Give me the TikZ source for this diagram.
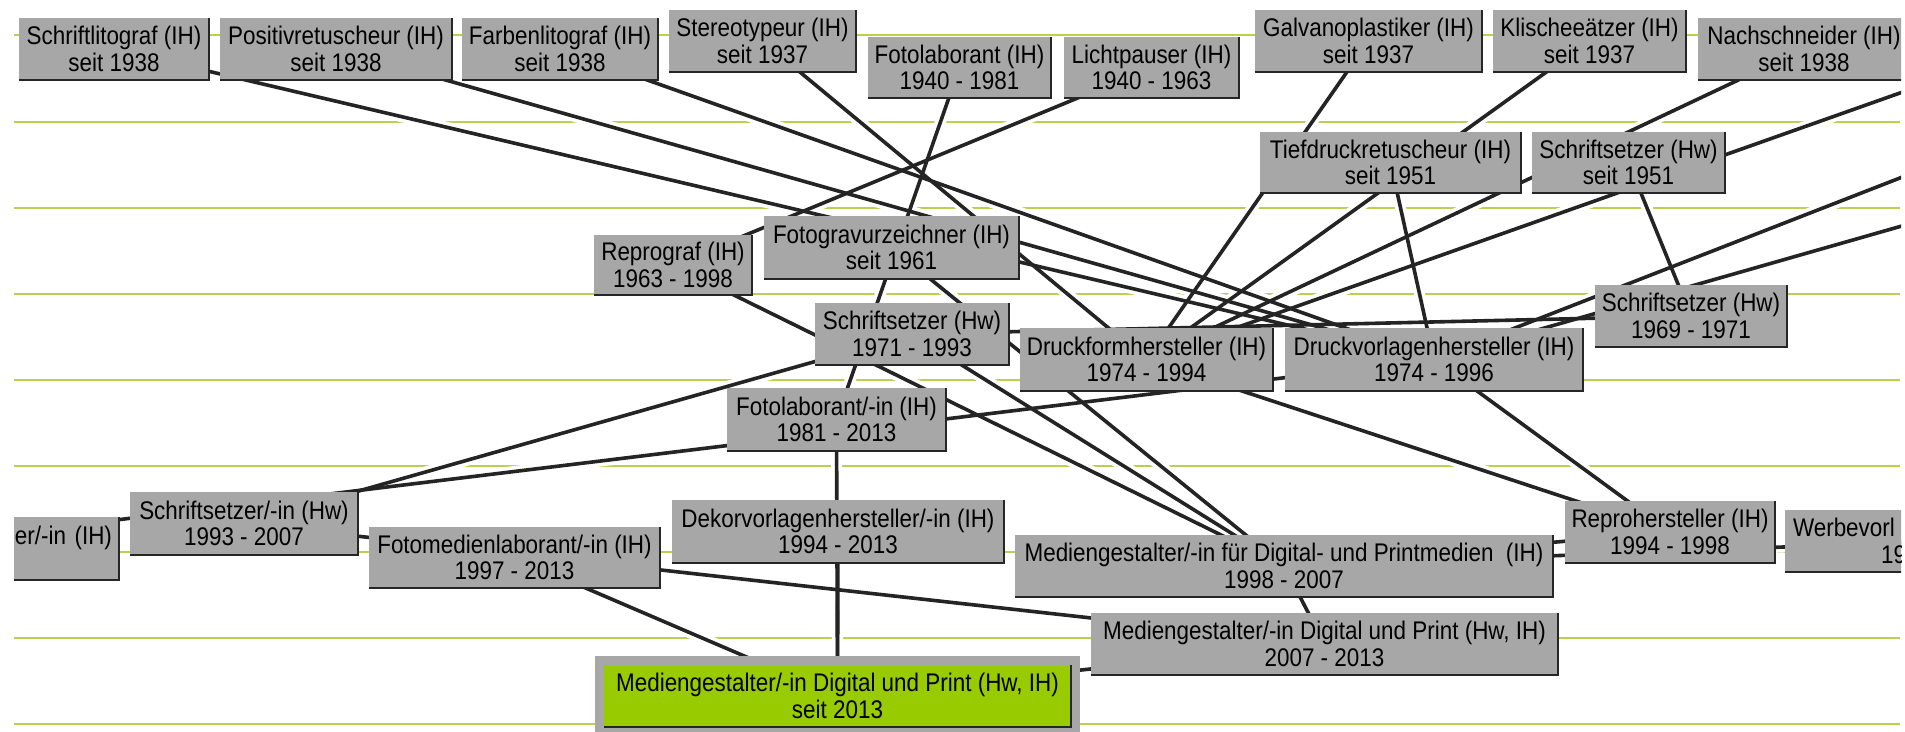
\documentclass[tikz,border=0pt]{standalone}
\usepackage{fontspec}
\newfontfamily\boxfont[FakeStretch=0.88]{Liberation Sans}
\pgfdeclarelayer{gridlayer}
\pgfdeclarelayer{connlayer}
\pgfsetlayers{gridlayer,connlayer,main}
\definecolor{boxgray}{RGB}{167,167,167}
\definecolor{gridgreen}{RGB}{186,208,80}
\definecolor{connc}{RGB}{36,36,36}
\definecolor{mygreen}{RGB}{153,204,0}
\tikzset{
  box/.style={rectangle, fill=boxgray, inner sep=0pt, outer sep=0pt, align=center, text=black,
    font={\boxfont\fontsize{25.5pt}{26.6pt}\selectfont}},
  greenbox/.style={box, fill=mygreen, draw=boxgray, line width=9pt},
  boxedge/.style={draw=black!85, line width=2pt},
  gridline/.style={draw=gridgreen, line width=2.6pt},
  halo/.style={draw=white, line width=11pt},
  conn/.style={draw=connc, line width=3.6pt},
}
\begin{document}
\begin{tikzpicture}[x=1pt,y=-1pt]
\useasboundingbox (0,0) rectangle (1905,731);
\begin{scope}
\clip (14,-20) rectangle (1901,760);
% top row
\node[box, minimum width=190, minimum height=62] (schlit) at (114,49) {Schriftlitograf (IH)\\seit 1938};
\node[box, minimum width=232, minimum height=62] (posret) at (336,49) {Positivretuscheur (IH)\\seit 1938};
\node[box, minimum width=196, minimum height=62] (farlit) at (560,49) {Farbenlitograf (IH)\\seit 1938};
\node[box, minimum width=187, minimum height=62] (stereo) at (762.5,41) {Stereotypeur (IH)\\seit 1937};
\node[box, minimum width=183, minimum height=61] (fotlab) at (959.5,67.5) {Fotolaborant (IH)\\1940 - 1981};
\node[box, minimum width=175, minimum height=61] (licht) at (1151.5,67.5) {Lichtpauser (IH)\\1940 - 1963};
\node[box, minimum width=227, minimum height=62] (galvano) at (1368.5,41) {Galvanoplastiker (IH)\\seit 1937};
\node[box, minimum width=193, minimum height=62] (klischee) at (1589.5,41) {Klischeeätzer (IH)\\seit 1937};
\node[box, minimum width=212, minimum height=62] (nachschn) at (1804,49) {Nachschneider (IH)\\seit 1938};
% second row
\node[box, minimum width=261, minimum height=61] (tiefdr) at (1390.5,162.5) {Tiefdruckretuscheur (IH)\\seit 1951};
\node[box, minimum width=193, minimum height=61] (ss51) at (1628.5,162.5) {Schriftsetzer (Hw)\\seit 1951};
% middle
\node[box, minimum width=255, minimum height=63] (fgz) at (891.5,247.5) {Fotogravurzeichner (IH)\\seit 1961};
\node[box, minimum width=158, minimum height=60] (reprograf) at (673,265) {Reprograf (IH)\\1963 - 1998};
\node[box, minimum width=192, minimum height=62] (ss69) at (1691,316) {Schriftsetzer (Hw)\\1969 - 1971};
\node[box, minimum width=194, minimum height=62] (ss71) at (912,334) {Schriftsetzer (Hw)\\1971 - 1993};
\node[box, minimum width=253, minimum height=63] (druckform) at (1146.5,359.5) {Druckformhersteller (IH)\\1974 - 1994};
\node[box, minimum width=298, minimum height=63] (druckvor) at (1434,359.5) {Druckvorlagenhersteller (IH)\\1974 - 1996};
\node[box, minimum width=219, minimum height=63] (fotlabin) at (836.5,419.5) {Fotolaborant/-in (IH)\\1981 - 2013};
% lower rows
\node[box, minimum width=474, minimum height=63, align=right, text width=460] (erin) at (-118,548.5) {er/-in (IH)\\\vphantom{1}};
\node[box, minimum width=228, minimum height=63] (ssin) at (244,523.5) {Schriftsetzer/-in (Hw)\\1993 - 2007};
\node[box, minimum width=291, minimum height=61] (fotomed) at (514.5,557.5) {Fotomedienlaborant/-in (IH)\\1997 - 2013};
\node[box, minimum width=332, minimum height=63] (dekor) at (838,531.5) {Dekorvorlagenhersteller/-in (IH)\\1994 - 2013};
\node[box, minimum width=538, minimum height=62] (mgdp) at (1284,566) {Mediengestalter/-in für Digital- und Printmedien\ \ (IH)\\1998 - 2007};
\node[box, minimum width=210, minimum height=62] (repro) at (1670,532) {Reprohersteller (IH)\\1994 - 1998};
\node[box, minimum width=312, minimum height=62, align=left, text width=296] (werbe) at (1941,541) {Werbevorl\\\hspace*{88pt}19};
\node[box, minimum width=467, minimum height=62] (mg07) at (1324.5,644) {Mediengestalter/-in Digital und Print (Hw, IH)\\2007 - 2013};
\node[greenbox, minimum width=476, minimum height=71] (green) at (837.5,696) {Mediengestalter/-in Digital und Print (Hw, IH)\\seit 2013};
% off-picture ends of connectors
\coordinate (offA) at (2000,57.6);
\coordinate (offB) at (2000,139);
\coordinate (offC) at (2000,198);
% 3D edges of the boxes
\foreach \n in {schlit,posret,farlit,stereo,fotlab,licht,galvano,klischee,nachschn,tiefdr,ss51,fgz,reprograf,ss69,ss71,druckform,druckvor,fotlabin,erin,ssin,fotomed,dekor,mgdp,repro,werbe,mg07}
  \draw[boxedge] (\n.south west) -- (\n.south east) -- (\n.north east);
\draw[boxedge] ([shift={(4.5,-4.5)}]green.south west) -- ([shift={(-4.5,-4.5)}]green.south east) -- ([shift={(-4.5,4.5)}]green.north east);
\end{scope}
% background grid
\begin{pgfonlayer}{gridlayer}
\fill[white] (0,0) rectangle (1905,731);
\foreach \yy in {35,122,208,294,380,466,552,638,724}
  \draw[gridline] (14,\yy) -- (1900,\yy);
\end{pgfonlayer}
% connectors
\begin{pgfonlayer}{connlayer}
\begin{scope}
\clip (14,-20) rectangle (1901,760);
\def\links{schlit/druckvor, posret/druckvor, farlit/druckvor, stereo/druckform, fotlab/fotlabin,
  licht/reprograf, galvano/druckform, klischee/druckform, nachschn/druckform, offA/druckform,
  tiefdr/druckvor, ss51/ss69, offB/druckvor, offC/druckvor, ss69/ss71, reprograf/mgdp, fgz/mgdp,
  ss71/mgdp, ss71/ssin, druckvor/erin, druckform/repro, druckvor/repro, repro/mgdp, werbe/mgdp,
  mgdp/mg07, ssin/mg07, mg07/green, fotomed/green, dekor/green, fotlabin/green}
\foreach \a/\b in \links \draw[halo] (\a.center) -- (\b.center);
\foreach \a/\b in \links \draw[conn] (\a.center) -- (\b.center);
\end{scope}
\end{pgfonlayer}
\end{tikzpicture}
\end{document}
